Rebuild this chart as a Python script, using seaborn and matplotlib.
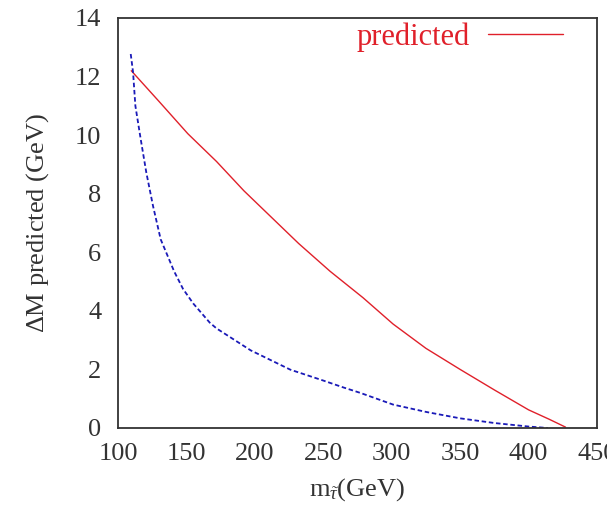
import matplotlib
matplotlib.use("Agg")
import matplotlib.pyplot as plt
import seaborn as sns
import pandas as pd

# Data
pred_x = [109.7, 130, 151, 172, 192, 212, 232, 255, 279, 301, 325, 350, 375, 400, 415, 427]
pred_y = [12.2, 11.15, 10.05, 9.1, 8.1, 7.2, 6.3, 5.35, 4.45, 3.55, 2.72, 2.0, 1.3, 0.62, 0.3, 0.03]

blue_x = [109.3, 111, 112.7, 116.6, 120.7, 125.6, 131.2, 141, 147.5, 155, 167, 172, 197, 226,
          250, 265, 277, 301, 325, 350, 375, 400, 414]
blue_y = [12.77, 12.15, 11.0, 9.86, 8.72, 7.58, 6.44, 5.35, 4.75, 4.25, 3.6, 3.4, 2.65, 1.99,
          1.62, 1.38, 1.2, 0.8, 0.55, 0.33, 0.17, 0.05, 0.0]

xticks = [100, 150, 200, 250, 300, 350, 400, 450]
yticks = [0, 2, 4, 6, 8, 10, 12, 14]

sns.set_theme(style="white")
plt.rcParams['font.family'] = ['Liberation Serif', 'DejaVu Serif']
plt.rcParams['mathtext.fontset'] = 'custom'
plt.rcParams['mathtext.rm'] = 'Liberation Serif'
plt.rcParams['mathtext.it'] = 'Liberation Serif:italic'

fig = plt.figure(figsize=(6.07, 5.07), dpi=100)
ax = fig.add_axes([118/607, 1-428/507, (597-118)/607, (428-18)/507])

df_pred = pd.DataFrame({"x": pred_x, "y": pred_y})
df_blue = pd.DataFrame({"x": blue_x, "y": blue_y})

sns.lineplot(data=df_pred, x="x", y="y", ax=ax, color="#e0202a", linewidth=1.0,
             label="predicted", sort=False)
sns.lineplot(data=df_blue, x="x", y="y", ax=ax, color="#1a1ab8", linewidth=1.3,
             linestyle=(0, (2.5, 1.5)), sort=False, legend=False)

ax.set_xlim(100, 450)
ax.set_ylim(0, 14)
ax.set_xticks(xticks)
ax.set_yticks(yticks)
ax.tick_params(axis='both', direction='in', length=7, width=1.0, colors='#333333',
               labelsize=19, labelcolor='#333333')
ax.tick_params(axis='x', pad=11)
ax.tick_params(axis='y', pad=12)
for s in ax.spines.values():
    s.set_color('#333333')
    s.set_linewidth(1.3)

ax.set_xlabel(r'$\mathrm{m}_{\tilde{\tau}}$(GeV)', fontsize=19, color='#333333', labelpad=8)
ax.set_ylabel(r'$\Delta$M predicted (GeV)', fontsize=19, color='#333333', labelpad=17)

leg = ax.legend(loc='upper right', frameon=False, markerfirst=False, fontsize=22,
                handlelength=2.45, handletextpad=0.6, borderaxespad=0.0, borderpad=0.0,
                bbox_to_anchor=(0.929, 0.99))
for t in leg.get_texts():
    t.set_color('#e0202a')

fig.savefig("out.png", dpi=100)
